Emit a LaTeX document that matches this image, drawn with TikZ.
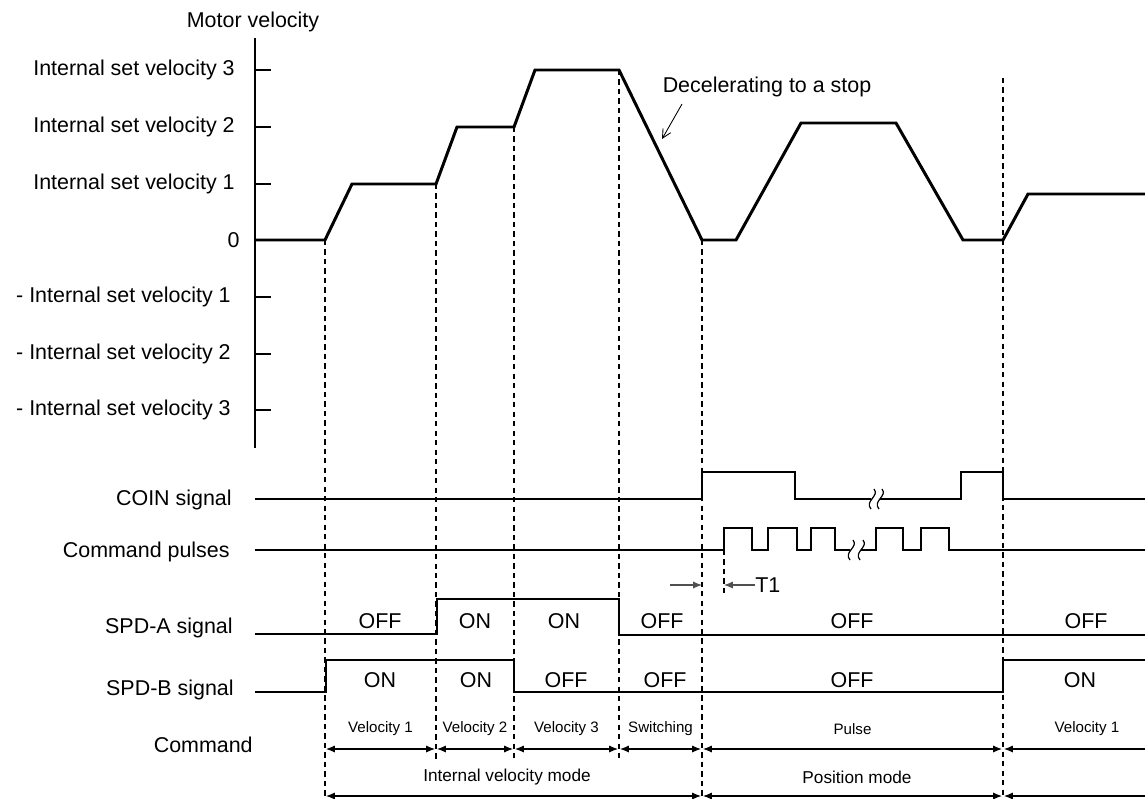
\documentclass[tikz,border=0pt]{standalone}
\usepackage{fontspec}
\setmainfont{Liberation Sans}
\usetikzlibrary{arrows.meta, positioning}
\definecolor{dimgrey}{RGB}{80, 80, 80}
% S-shaped break mark
\newcommand{\sigbreak}[2]{%
  \draw[line width=0.7pt] (#1+2,#2-10) .. controls (#1+8,#2-3) and (#1-8,#2+2) .. (#1-1,#2+10);}

\begin{document}
\begin{tikzpicture}[x=0.02cm, y=-0.02cm,
  lbl/.style={font=\fontsize{12.2}{14}\selectfont, inner sep=0pt},
  mode/.style={font=\fontsize{9.8}{12}\selectfont, inner sep=0pt},
  small/.style={font=\fontsize{8.6}{10}\selectfont, inner sep=0pt},
  vcurve/.style={line width=1.7pt, line join=miter},
  sig/.style={line width=1.1pt},
  guide/.style={line width=0.6pt, dash pattern=on 3pt off 2.4pt},
  dimline/.style={line width=0.6pt, {Latex[length=5pt,width=4pt]}-{Latex[length=5pt,width=4pt]}},
  dimleft/.style={line width=0.6pt, {Latex[length=5pt,width=4pt]}-}
]
  \useasboundingbox (0,0) rectangle (1145,798);

  % velocity axis
  \node[lbl] (mvel) at (253,22) {Motor velocity};
  \draw[line width=0.9pt] (255,38) -- (255,448);
  \foreach \x/\y/\t [count=\i] in {235/70/Internal set velocity 3, 235/127/Internal set velocity 2,
      235/184/Internal set velocity 1, 231/297/- Internal set velocity 1,
      231/354/- Internal set velocity 2, 231/410/- Internal set velocity 3} {
    \draw[line width=0.6pt] (255,\y) -- (271,\y);
    \node[lbl, anchor=east] (tick\i) at (\x,\y) {\t};
  }
  \node[lbl, anchor=east] (zero) at (240,240) {0};

  % guides
  \foreach \x/\a/\b in {325/240/798, 436/184/762, 514/127/762, 619/70/762, 702/240/798, 1003/78/798}
    \draw[guide] (\x,\a) -- (\x,\b);
  \draw[guide] (724,550) -- (724,597);

  % motor velocity
  \draw[vcurve] (255,240) -- (325,240) -- (352,184) -- (436,184) -- (457,127) -- (514,127)
    -- (535,70) -- (619,70) -- (702,240) -- (736,240) -- (801,123) -- (896,123)
    -- (963,240) -- (1003,240) -- (1028,194) -- (1150,194);
  \node[lbl] (decel) at (767,87) {Decelerating to a stop};
  \coordinate (decelfrom) at (682,104);
  \coordinate (decelto) at (662,139);
  \draw[line width=0.5pt, -{Straight Barb[length=5pt,width=5pt]}] (decelfrom) -- (decelto);

  % signal names
  \node[lbl, anchor=east] (coin) at (232,500) {COIN signal};
  \node[lbl, anchor=east] (cmdp) at (230,552) {Command pulses};
  \node[lbl, anchor=east] (spda) at (233,628) {SPD-A signal};
  \node[lbl, anchor=east] (spdb) at (234,690) {SPD-B signal};
  \node[lbl, anchor=east] (cmd) at (253,745) {Command};

  % COIN
  \draw[sig] (255,499) -- (702,499) -- (702,472) -- (795,472) -- (795,499) -- (871,499);
  \sigbreak{872}{499}
  \sigbreak{880}{499}
  \draw[sig] (880,499) -- (961,499) -- (961,472) -- (1003,472) -- (1003,499) -- (1150,499);

  % command pulses
  \draw[sig] (255,550) -- (724,550) -- (724,528) -- (752,528) -- (752,550) -- (768,550)
    -- (768,528) -- (797,528) -- (797,550) -- (811,550) -- (811,528) -- (835,528)
    -- (835,550) -- (850,550);
  \sigbreak{851}{550}
  \sigbreak{861}{550}
  \draw[sig] (861,550) -- (876,550) -- (876,528) -- (903,528) -- (903,550) -- (921,550)
    -- (921,528) -- (949,528) -- (949,550) -- (1150,550);

  % T1
  \node[lbl, anchor=west] (t1) at (755,585) {T1};
  \coordinate (t1a) at (670,585);
  \coordinate (t1b) at (702,585);
  \coordinate (t1c) at (724,585);
  \draw[line width=0.6pt, draw=dimgrey, -{Latex[length=5pt,width=4pt]}] (t1a) -- (t1b);
  \draw[line width=0.6pt, draw=dimgrey, -{Latex[length=5pt,width=4pt]}] (t1.west) -- (t1c);

  % SPD-A
  \draw[sig] (255,634) -- (437,634) -- (437,599) -- (619,599) -- (619,635) -- (1150,635);
  \foreach \x/\t [count=\i] in {380/OFF, 475/ON, 564/ON, 662/OFF, 852/OFF, 1086/OFF}
    \node[lbl] (sa\i) at (\x,621) {\t};

  % SPD-B
  \draw[sig] (255,692) -- (326,692) -- (326,660) -- (514,660) -- (514,692) -- (1003,692)
    -- (1003,660) -- (1150,660);
  \foreach \x/\t [count=\i] in {380/ON, 476/ON, 566/OFF, 665/OFF, 852/OFF, 1080/ON}
    \node[lbl] (sb\i) at (\x,680) {\t};

  % command spans
  \foreach \a/\b/\t [count=\i] in {326/435/Velocity 1, 437/513/Velocity 2, 515/618/Velocity 3,
      620/701/Switching, 703/1002/Pulse} {
    \coordinate (ca\i) at (\a,749);
    \coordinate (cb\i) at (\b,749);
    \node[small] (cl\i) at ({(\a+\b)/2},729) {\t};
    \draw[dimline] (ca\i) -- (cb\i);
  }
  \node[small] (cl6) at (1087,729) {Velocity 1};
  \coordinate (ca6) at (1004,749);
  \coordinate (cb6) at (1150,749);
  \draw[dimleft] (ca6) -- (cb6);

  % mode spans
  \node[mode] (ivm) at (507,777) {Internal velocity mode};
  \node[mode] (pm) at (857,777) {Position mode};
  \coordinate (ma1) at (326,796);
  \coordinate (mb1) at (701,796);
  \coordinate (ma2) at (703,796);
  \coordinate (mb2) at (1002,796);
  \coordinate (ma3) at (1004,796);
  \coordinate (mb3) at (1150,796);
  \draw[dimline] (ma1) -- (mb1);
  \draw[dimline] (ma2) -- (mb2);
  \draw[dimleft] (ma3) -- (mb3);
\end{tikzpicture}
\end{document}
